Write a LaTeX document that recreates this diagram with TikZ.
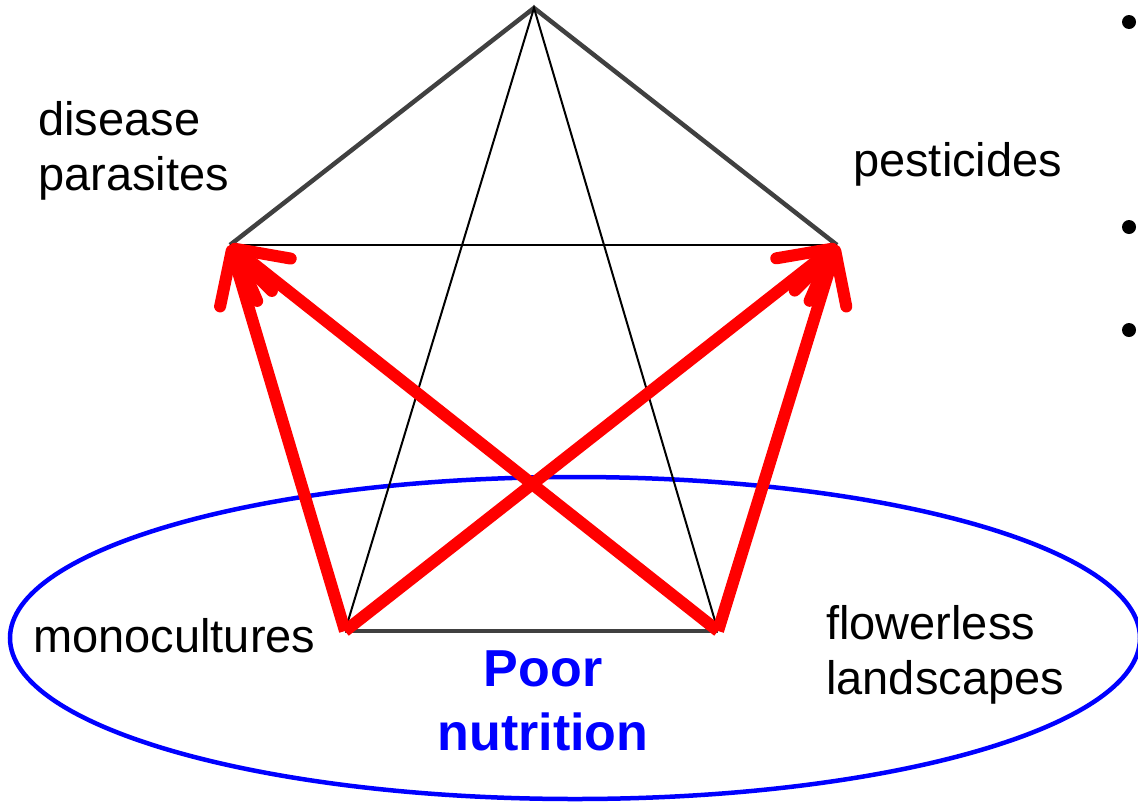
\documentclass[tikz,border=0pt]{standalone}
\usepackage{fontspec}
\setmainfont{Liberation Sans}
\usetikzlibrary{arrows.meta,shapes,positioning}
\tikzset{
    basic/.style   = {font=\fontsize{47}{55}\selectfont, inner sep=0pt, align=left},
    stress/.style  = {basic, anchor=base west},
    result/.style  = {basic, font=\fontsize{52}{64}\selectfont\bfseries, text=blue, align=center, anchor=base},
    outer edge/.style = {draw=black!75, line width=4.5pt},
    inner edge/.style = {draw=black, line width=2pt},
    link/.style    = {draw=red, line width=12pt, -{Straight Barb[length=50pt, width=54pt, round]}},
    dot/.style     = {circle, fill=black, inner sep=0pt, minimum size=14pt}
}
\begin{document}
\begin{tikzpicture}[x=1pt, y=-1pt]
	\useasboundingbox (0,0) rectangle (1138,804);
	% corners of the pentagon
	\coordinate (top) at (534,8);
	\coordinate (left) at (230,245);
	\coordinate (right) at (837,245);
	\coordinate (bl) at (345,631);
	\coordinate (br) at (718,631);
	% poor nutrition
	\draw[blue, line width=4.5pt] (575,638) ellipse [x radius=565, y radius=161];
	% pentagon and star
	\draw[outer edge] (left) -- (top) -- (right);
	\draw[outer edge] (bl) -- (br);
	\draw[inner edge] (left) -- (right);
	\draw[inner edge] (bl) -- (top) -- (br);
	% stress arrows
	\draw[link] (bl) -- (left);
	\draw[link] (br) -- (left);
	\draw[link] (bl) -- (right);
	\draw[link] (br) -- (right);
	% labels (base = last line)
	\node[stress] (disease) at (38,190) {disease\\parasites};
	\node[stress] (pest) at (853,176) {pesticides};
	\node[stress] (mono) at (33,652) {monocultures};
	\node[stress] (flower) at (826,694) {flowerless\\landscapes};
	\node[result] (poor) at (543,750) {Poor\\nutrition};
	% bullets cut off at the edge
	\node[dot] (b1) at (1129,22) {};
	\node[dot] (b2) at (1129,227) {};
	\node[dot] (b3) at (1129,330) {};
\end{tikzpicture}
\end{document}
